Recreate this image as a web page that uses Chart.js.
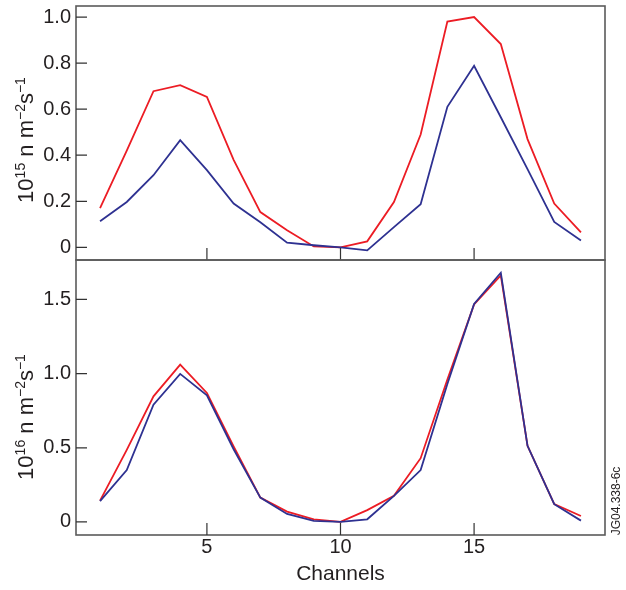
<!DOCTYPE html>
<html><head><meta charset="utf-8">
<script src="https://cdn.jsdelivr.net/npm/chart.js@4/dist/chart.umd.min.js"></script>
<style>
html,body{margin:0;padding:0;background:#fff;overflow:hidden;width:626px;height:590px}
#wrapTop{position:absolute;left:0;top:0;width:626px;height:262px}
#wrapBot{position:absolute;left:0;top:255px;width:626px;height:335px}
</style></head><body>
<div id="wrapTop"><canvas id="cTop"></canvas></div>
<div id="wrapBot"><canvas id="cBot"></canvas></div>
<script>
// ---- data ----
const channels = [1,2,3,4,5,6,7,8,9,10,11,12,13,14,15,16,17,18,19];
const topRed  = [0.17,0.42,0.678,0.704,0.653,0.38,0.153,0.074,0.004,0.0,0.026,0.197,0.49,0.98,1.0,0.883,0.47,0.19,0.065];
const topBlue = [0.113,0.197,0.313,0.465,0.335,0.19,0.109,0.02,0.009,0.0,-0.013,0.088,0.187,0.61,0.788,0.565,0.34,0.11,0.03];
const botRed  = [0.144,0.486,0.847,1.06,0.87,0.51,0.164,0.07,0.018,0.0,0.08,0.176,0.43,0.96,1.466,1.662,0.513,0.12,0.04];
const botBlue = [0.14,0.35,0.79,0.998,0.853,0.49,0.164,0.054,0.007,0.0,0.018,0.176,0.35,0.93,1.47,1.68,0.513,0.12,0.009];
const xTicks = [5,10,15];
const topTicks = [0,0.2,0.4,0.6,0.8,1.0];
const botTicks = [0,0.5,1.0,1.5];
const topTitle = [['10',0],['15',1],[' n m',0],['\u22122',1],['s',0],['\u22121',1]];
const botTitle = [['10',0],['16',1],[' n m',0],['\u22122',1],['s',0],['\u22121',1]];
const xTitle = 'Channels';
const figId = 'JG04.338-6c';

const RED = '#ec1c24', BLUE = '#2e3191';
const FONT = "'Liberation Sans', Arial, Helvetica, sans-serif";
Chart.defaults.font.family = FONT;
Chart.defaults.color = '#231f20';

function pts(ys){ return channels.map((c,i)=>({x:c,y:ys[i]})); }
function fmt(v){ return v===0 ? '0' : v.toFixed(1); }

function drawSupTitle(ctx, parts, cx, cy){
  ctx.save();
  ctx.translate(cx, cy);
  ctx.rotate(-Math.PI/2);
  ctx.fillStyle = '#231f20';
  ctx.textBaseline = 'alphabetic';
  ctx.textAlign = 'left';
  const big = '22px '+FONT, small = '14px '+FONT;
  let w = 0;
  parts.forEach(p=>{ ctx.font = p[1]?small:big; w += ctx.measureText(p[0]).width; });
  let x = -w/2;
  parts.forEach(p=>{
    ctx.font = p[1]?small:big;
    ctx.fillText(p[0], x, p[1] ? -8.5 : 0);
    x += ctx.measureText(p[0]).width;
  });
  ctx.restore();
}

function framePlugin(opts){
  return {
    id:'frame'+opts.name,
    afterDraw(chart){
      const ctx = chart.ctx, a = chart.chartArea;
      const xs = chart.scales.x, ys = chart.scales.y;
      ctx.save();
      ctx.strokeStyle = '#5b5b5b';
      ctx.lineWidth = 1.6;
      ctx.strokeRect(a.left, a.top, a.right-a.left, a.bottom-a.top);
      ctx.strokeStyle = '#333';
      ctx.lineWidth = 1.2;
      ctx.beginPath();
      ys.ticks.forEach(t=>{
        const y = ys.getPixelForValue(t.value);
        ctx.moveTo(a.left, y); ctx.lineTo(a.left+11, y);
      });
      xs.ticks.forEach(t=>{
        if (!xTicks.includes(t.value)) return;
        const x = xs.getPixelForValue(t.value);
        ctx.moveTo(x, a.bottom); ctx.lineTo(x, a.bottom-12);
      });
      ctx.stroke();
      drawSupTitle(ctx, opts.title, 33, opts.titleY);
      if (opts.fig){
        ctx.save();
        ctx.translate(620, opts.figY);
        ctx.rotate(-Math.PI/2);
        ctx.font = '12px '+FONT;
        ctx.fillStyle = '#231f20';
        ctx.textAlign = 'center';
        ctx.textBaseline = 'alphabetic';
        ctx.fillText(figId, 0, 0);
        ctx.restore();
      }
      ctx.restore();
    }
  };
}

function makeChart(id, red, blue, yMin, yMax, yTicks, showX, plugin, padding){
  return new Chart(document.getElementById(id), {
    type:'line',
    data:{ datasets:[
      {data:pts(blue), borderColor:BLUE, borderWidth:1.8, pointRadius:0, tension:0, fill:false},
      {data:pts(red),  borderColor:RED,  borderWidth:1.8, pointRadius:0, tension:0, fill:false}
    ]},
    options:{
      responsive:true, maintainAspectRatio:false, animation:false,
      layout:{padding:padding},
      plugins:{legend:{display:false}, tooltip:{enabled:false}},
      scales:{
        x:{
          type:'linear', min:0.1, max:19.9, display:showX,
          afterBuildTicks(s){ s.ticks = xTicks.map(v=>({value:v})); },
          afterFit(s){ if(showX) s.height = 55; s.paddingLeft = 0; s.paddingRight = 0; },
          grid:{display:false, drawTicks:false}, border:{display:false},
          ticks:{font:{size:20}, padding:0, color:'#231f20', maxRotation:0, autoSkip:false},
          title:{display:showX, text:xTitle, font:{size:21}, color:'#231f20', padding:{top:0,bottom:3}}
        },
        y:{
          type:'linear', min:yMin, max:yMax,
          afterBuildTicks(s){ s.ticks = yTicks.map(v=>({value:v})); },
          afterFit(s){ s.width = 76; s.paddingTop = 0; s.paddingBottom = 0; },
          grid:{display:false, drawTicks:false}, border:{display:false},
          ticks:{font:{size:20}, padding:5, color:'#231f20', callback:fmt, autoSkip:false}
        }
      }
    },
    plugins:[plugin]
  });
}

makeChart('cTop', topRed, topBlue, -0.055, 1.048, topTicks, false,
  framePlugin({name:'top', title:topTitle, titleY:140}), {left:0, right:21, top:6, bottom:2});
makeChart('cBot', botRed, botBlue, -0.088, 1.766, botTicks, true,
  framePlugin({name:'bot', title:botTitle, titleY:162, fig:true, figY:246}), {left:0, right:21, top:5, bottom:0});
</script>
</body></html>
